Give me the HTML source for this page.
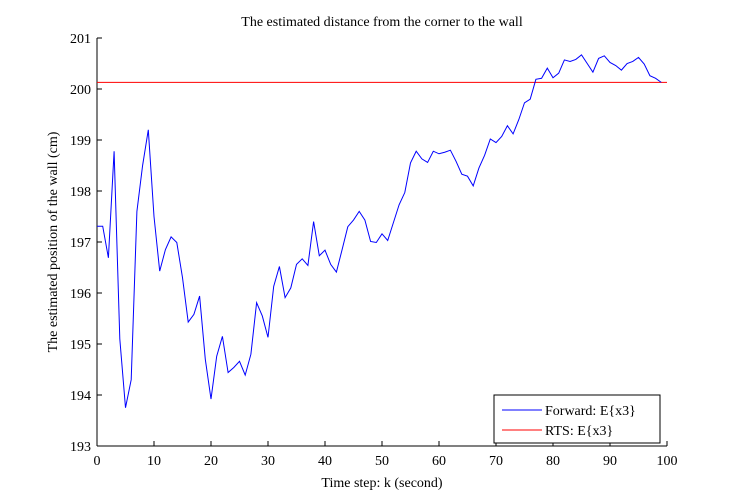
<!DOCTYPE html>
<html><head><meta charset="utf-8"><style>
html,body{margin:0;padding:0;background:#fff;}
svg{display:block;font-family:"Liberation Serif",serif;}
</style></head><body>
<svg id="chart" width="737" height="504" viewBox="0 0 737 504">
<text x="382" y="26" font-size="14" text-anchor="middle">The estimated distance from the corner to the wall</text>
<g id="axes"></g>
<g id="series"></g>
<text x="382" y="487" font-size="14" text-anchor="middle">Time step: k (second)</text>
<text transform="translate(57,242) rotate(-90)" font-size="14" text-anchor="middle">The estimated position of the wall (cm)</text>
<g>
<rect x="494" y="395" width="166" height="48" fill="#fff" stroke="#000" stroke-width="1"/>
<line x1="502" y1="410" x2="542" y2="410" stroke="#0000ff"/>
<text x="545" y="415" font-size="14">Forward: E{x3}</text>
<line x1="502" y1="430" x2="542" y2="430" stroke="#ff0000"/>
<text x="545" y="435" font-size="14">RTS: E{x3}</text>
</g>
</svg>
<script>
const xTicks=[0,10,20,30,40,50,60,70,80,90,100];
const yTicks=[193,194,195,196,197,198,199,200,201];
const forwardValues=[197.31,197.31,196.69,198.78,195.1,193.75,194.3,197.6,198.5,199.2,
197.5,196.43,196.85,197.1,196.99,196.3,195.43,195.58,195.94,194.7,
193.92,194.76,195.15,194.44,194.54,194.66,194.39,194.8,195.81,195.55,
195.13,196.13,196.52,195.91,196.1,196.56,196.67,196.54,197.4,196.73,
196.84,196.56,196.41,196.85,197.3,197.43,197.6,197.43,197.01,196.99,
197.16,197.03,197.38,197.73,197.97,198.55,198.78,198.63,198.56,198.78,
198.73,198.76,198.8,198.58,198.33,198.29,198.1,198.45,198.7,199.02,
198.95,199.07,199.28,199.12,199.4,199.73,199.8,200.19,200.21,200.41,
200.22,200.31,200.57,200.54,200.58,200.67,200.5,200.33,200.6,200.65,
200.52,200.46,200.37,200.5,200.54,200.62,200.49,200.26,200.21,200.13];
const rtsValue=[200.13];
const X0=97,X1=667,Y0=446,Y1=38;
const sx=v=>X0+(v-0)/(100-0)*(X1-X0);
const sy=v=>Y0-(v-193)/(201-193)*(Y0-Y1);
const NS="http://www.w3.org/2000/svg";
const axes=document.getElementById('axes');
const series=document.getElementById('series');
function mk(tag,attrs,parent){const e=document.createElementNS(NS,tag);for(const k in attrs)e.setAttribute(k,attrs[k]);parent.appendChild(e);return e;}
let a=mk('line',{x1:X0,y1:Y0,x2:X1,y2:Y0,stroke:'#000'},axes);


a=mk('line',{x1:X0,y1:Y0,x2:X0,y2:Y1,stroke:'#000'},axes);


xTicks.forEach(t=>{
 const x=sx(t);
 const l=mk('line',{x1:x,y1:Y0,x2:x,y2:Y0-5,stroke:'#000'},axes);
 
 
 const tx=mk('text',{x:x,y:Y0+19,'font-size':14,'text-anchor':'middle'},axes);
 tx.textContent=t;
 
 
});
yTicks.forEach(t=>{
 const y=sy(t);
 const l=mk('line',{x1:X0,y1:y,x2:X0+5,y2:y,stroke:'#000'},axes);
 
 
 const tx=mk('text',{x:X0-6,y:y+5,'font-size':14,'text-anchor':'end'},axes);
 tx.textContent=t;
 
 
});
const r=mk('line',{x1:sx(0),y1:sy(rtsValue[0]),x2:sx(100),y2:sy(rtsValue[0]),stroke:'#ff0000','stroke-width':1},series);


const pts=forwardValues.map((v,i)=>sx(i).toFixed(2)+','+sy(v).toFixed(2)).join(' ');
const p=mk('polyline',{points:pts,fill:'none',stroke:'#0000ff','stroke-width':1},series);


</script>
</body></html>
